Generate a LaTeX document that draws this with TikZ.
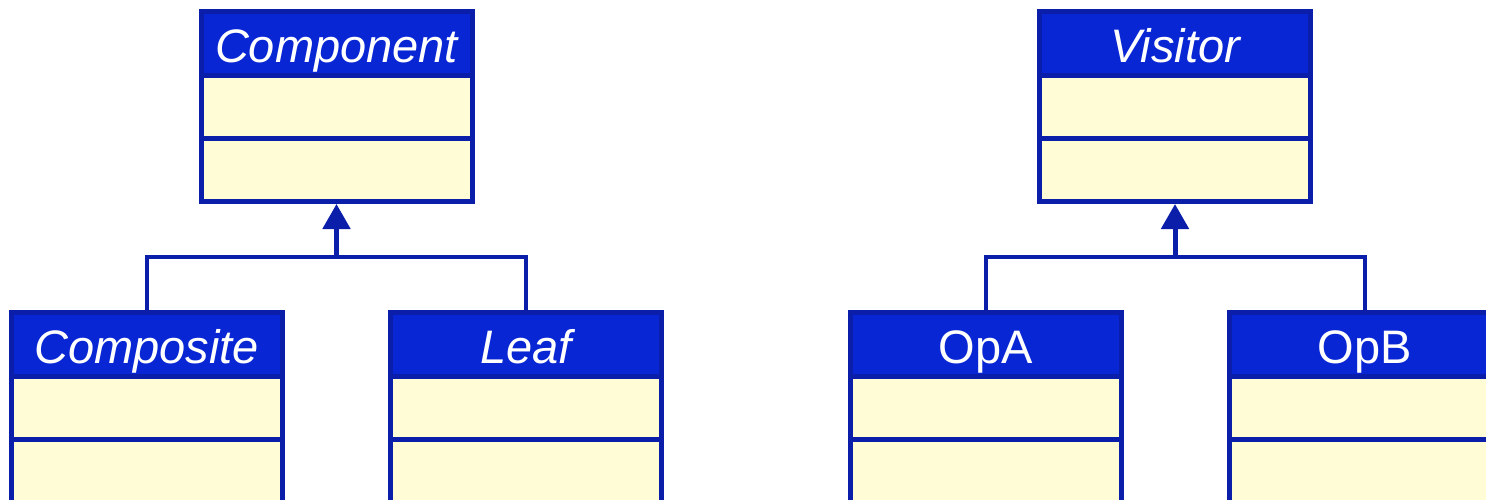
\documentclass[tikz,border=0pt]{standalone}
\usepackage{fontspec}
\setmainfont{Liberation Sans}
\usetikzlibrary{arrows.meta}

\definecolor{umlhead}{HTML}{0826D4}
\definecolor{umlline}{HTML}{0A1EAA}
\definecolor{umlbody}{HTML}{FFFCD6}

\tikzset{
  umlbox/.style={rectangle, draw=umlline, line width=5pt, outer sep=0pt,
    inner sep=0pt, minimum width=271pt},
  umlhdr/.style={umlbox, fill=umlhead, minimum height=64pt, text=white,
    font=\fontsize{47}{50}\selectfont, text height=40pt, text depth=2pt},
  umlcmp/.style={umlbox, fill=umlbody, minimum height=63pt},
  genline/.style={draw=umlline, line width=4pt},
  genarrow/.style={genline, line width=5pt,
    -{Triangle[length=25pt,width=27pt]}, shorten >=2.5pt},
}

% a class box: name header plus two empty compartments
\newcommand\umlclass[4]{%
  \node[umlhdr, anchor=north] (#1) at (#2,#3) {#4};
  \node[umlcmp, anchor=north] (#1-attr) at (#1.south) {};
  \node[umlcmp, anchor=north] (#1-ops) at (#1-attr.south) {};
}

\begin{document}
\begin{tikzpicture}[x=1pt, y=-1pt]
  \useasboundingbox (0,0) rectangle (1486,500);
  \fill[white] (0,0) rectangle (1486,500);
  \clip (0,0) rectangle (1486,500);

  % Composite pattern
  \umlclass{component}{336.5}{11.5}{\itshape Component}
  \umlclass{composite}{146.5}{312}{\itshape Composite}
  \umlclass{leaf}{526}{312}{\itshape Leaf}

  % Visitor pattern
  \umlclass{visitor}{1175}{11.5}{\itshape Visitor}
  \umlclass{opa}{985.5}{312}{OpA}
  \umlclass{opb}{1365}{312}{OpB}

  % generalisation connectors
  \path (component-ops.south) ++(0,55.5) coordinate (jl);
  \path (visitor-ops.south) ++(0,55.5) coordinate (jr);

  \draw[genline] (composite.north) |- (jl) -| (leaf.north);
  \draw[genarrow] (jl) -- (component-ops.south);

  \draw[genline] (opa.north) |- (jr) -| (opb.north);
  \draw[genarrow] (jr) -- (visitor-ops.south);
\end{tikzpicture}
\end{document}
